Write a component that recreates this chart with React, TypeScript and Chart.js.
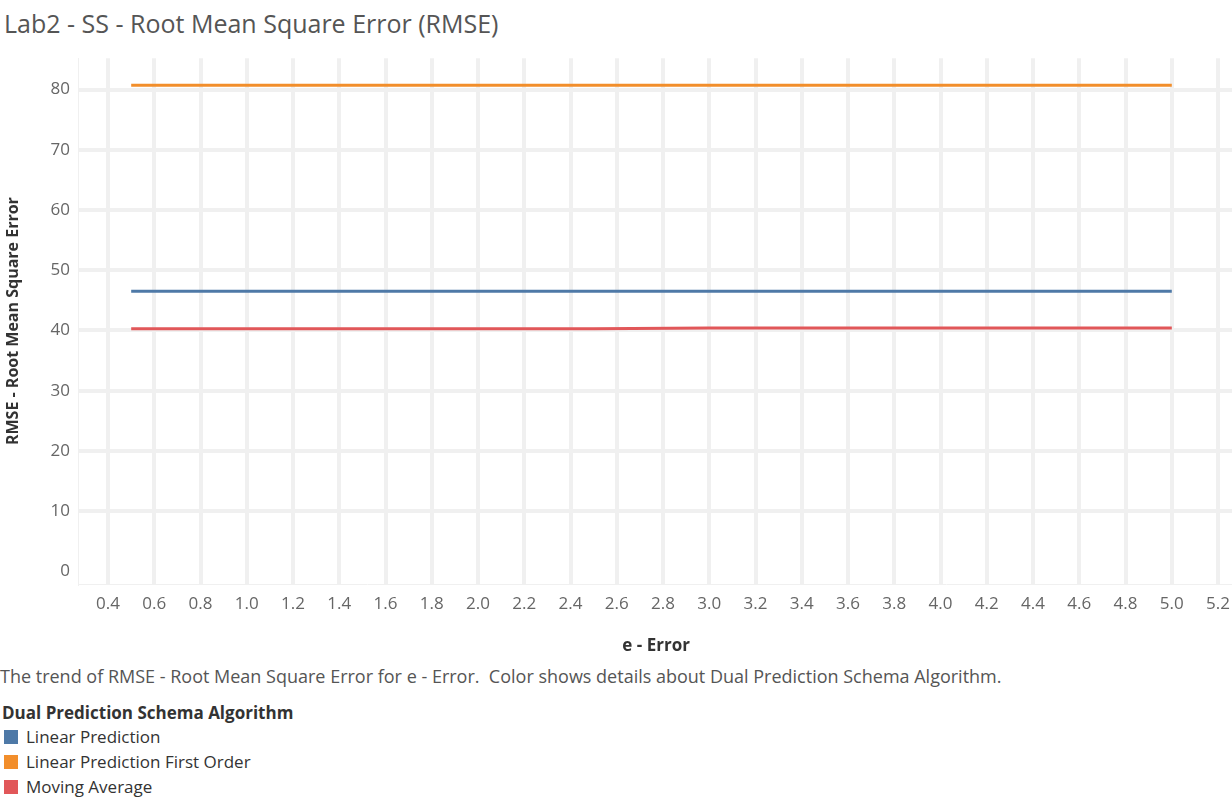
import React, { useRef, useEffect } from "react";
import Chart from "chart.js/auto";

const errors = [0.5, 1.0, 1.5, 2.0, 2.5, 3.0, 3.5, 4.0, 4.5, 5.0];
const linearPrediction = [46.5, 46.5, 46.5, 46.5, 46.5, 46.5, 46.5, 46.5, 46.5, 46.5];
const linearFirstOrder = [80.7, 80.7, 80.7, 80.7, 80.7, 80.7, 80.7, 80.7, 80.7, 80.7];
const movingAverage = [40.3, 40.3, 40.3, 40.3, 40.3, 40.4, 40.4, 40.4, 40.4, 40.4];
const yTicks = [0, 10, 20, 30, 40, 50, 60, 70, 80];
const xTicks = [0.4, 0.6, 0.8, 1.0, 1.2, 1.4, 1.6, 1.8, 2.0, 2.2, 2.4, 2.6, 2.8, 3.0, 3.2, 3.4, 3.6, 3.8, 4.0, 4.2, 4.4, 4.6, 4.8, 5.0, 5.2];

const series = [
  { label: "Linear Prediction", data: linearPrediction, color: "#4e79a7" },
  { label: "Linear Prediction First Order", data: linearFirstOrder, color: "#f28e2b" },
  { label: "Moving Average", data: movingAverage, color: "#e15759" },
];

const FONT = "'Open Sans', sans-serif";

const App = () => {
  const chartRef = useRef<HTMLCanvasElement>(null);
  const chartInstance = useRef<Chart | null>(null);

  useEffect(() => {
    if (!chartRef.current) return;
    chartInstance.current = new Chart(chartRef.current, {
      type: "line",
      data: {
        datasets: series.map((s) => ({
          label: s.label,
          data: errors.map((e, i) => ({ x: e, y: s.data[i] })),
          borderColor: s.color,
          backgroundColor: s.color,
          borderWidth: 3,
          pointRadius: 0,
        })),
      },
      options: {
        animation: false,
        responsive: false,
        layout: { padding: { top: 4, right: 0, left: 0, bottom: 0 } },
        plugins: { legend: { display: false }, tooltip: { enabled: false } },
        scales: {
          x: {
            type: "linear",
            min: 0.27,
            max: 5.27,
            afterBuildTicks: (axis: any) => {
              axis.ticks = xTicks.map((v) => ({ value: v }));
            },
            afterFit: (axis: any) => {
              axis.height = 76;
            },
            grid: { color: "#f0f0f0", lineWidth: 4, drawTicks: false },
            border: { color: "#f0f0f0", width: 1 },
            ticks: {
              color: "#666",
              font: { family: FONT, size: 17 },
              padding: 10,
              maxRotation: 0,
              autoSkip: false,
              callback: (v: any) => Number(v).toFixed(1),
            },
            title: {
              display: true,
              text: "e - Error",
              color: "#333",
              font: { family: FONT, size: 17, weight: "bold" },
              padding: { top: 4 },
            },
          },
          y: {
            min: -2.1,
            max: 85.2,
            afterBuildTicks: (axis: any) => {
              axis.ticks = yTicks.map((v) => ({ value: v }));
            },
            afterFit: (axis: any) => {
              axis.width = 78;
            },
            grid: {
              color: (ctx: any) => (ctx.tick && ctx.tick.value === 0 ? "rgba(0,0,0,0)" : "#f0f0f0"),
              lineWidth: 4,
              drawTicks: false,
            },
            border: { color: "#f0f0f0", width: 1 },
            ticks: {
              color: "#666",
              font: { family: FONT, size: 17 },
              padding: 8,
            },
            title: {
              display: true,
              text: "RMSE - Root Mean Square Error",
              color: "#333",
              font: { family: FONT, size: 16, weight: "bold" },
              padding: { bottom: 4 },
            },
          },
        },
      },
    });
    return () => {
      chartInstance.current?.destroy();
    };
  }, []);

  return (
    <div style={{ position: "fixed", left: 0, top: 0, width: 1232, height: 799, background: "#fff", fontFamily: FONT, overflow: "hidden" }}>
      <div style={{ position: "absolute", left: 4, top: 6, fontSize: 25, color: "#555" }}>
        Lab2 - SS - Root Mean Square Error (RMSE)
      </div>
      <canvas ref={chartRef} width={1240} height={620} style={{ position: "absolute", left: 0, top: 40 }} />
      <div style={{ position: "absolute", left: 0, top: 664, fontSize: 18, color: "#555" }}>
        The trend of RMSE - Root Mean Square Error for e - Error.&nbsp; Color shows details about Dual Prediction Schema Algorithm.
      </div>
      <div style={{ position: "absolute", left: 2, top: 701, fontSize: 17, color: "#333", fontWeight: "bold" }}>
        Dual Prediction Schema Algorithm
      </div>
      {series.map((s, i) => (
        <div key={s.label} style={{ position: "absolute", left: 4, top: 725 + i * 25, fontSize: 17, color: "#333", display: "flex", alignItems: "center" }}>
          <span style={{ display: "inline-block", width: 14, height: 14, background: s.color, marginRight: 8 }} />
          {s.label}
        </div>
      ))}
    </div>
  );
};

export default App;
